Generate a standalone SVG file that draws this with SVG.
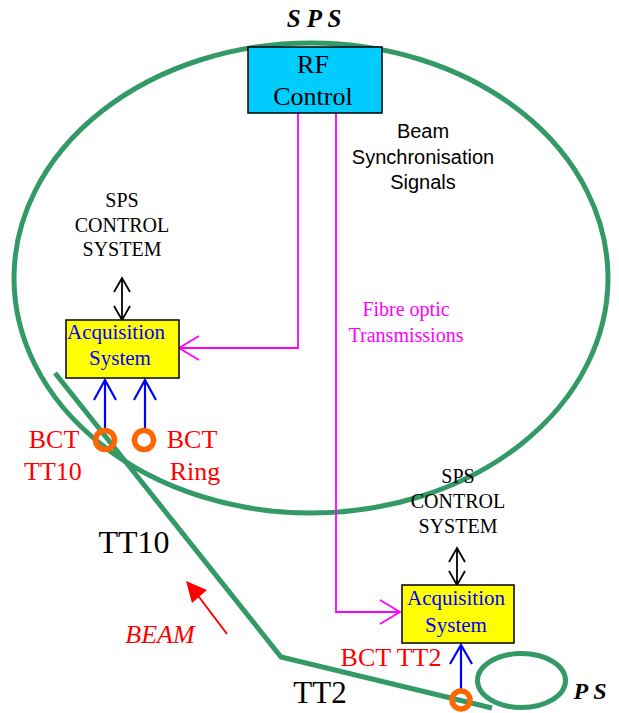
<svg xmlns="http://www.w3.org/2000/svg" width="619" height="713" viewBox="0 0 619 713">
<style>
.ring{fill:none;stroke:#339966;stroke-width:5}
.tm{font-family:"Liberation Serif",serif;text-anchor:middle}
.ar{font-family:"Liberation Sans",sans-serif;text-anchor:middle}
.box{stroke:#000;stroke-width:1.5}
.mag{fill:none;stroke:#FF00FF;stroke-width:1.8}
.blu{fill:none;stroke:#0000FF;stroke-width:2.2}
.blk{fill:none;stroke:#000;stroke-width:1.8}
.bct{fill:none;stroke:#FF6600;stroke-width:5.5}
</style>
<rect width="619" height="713" fill="#fff"/>
<g id="sps-ring">
<ellipse class="ring" cx="311" cy="278" rx="297" ry="235"/>
<text class="tm" x="314" y="27" font-size="25" font-weight="bold" font-style="italic">S P S</text>
</g>
<g id="ps-ring">
<ellipse class="ring" cx="521.5" cy="680.5" rx="44" ry="27"/>
<text class="tm" x="590" y="699" font-size="24" font-weight="bold" font-style="italic">P S</text>
</g>
<g id="transfer-lines">
<polyline class="ring" points="55,373 281,657 492,708"/>
<text class="tm" x="134" y="553" font-size="32">TT10</text>
<text class="tm" x="320" y="703" font-size="31">TT2</text>
</g>
<g id="connectors">
<polyline class="mag" points="298,113 298,348 179,348"/>
<polyline class="mag" points="199,336 179,348 199,360"/>
<polyline class="mag" points="336,113 336,612 400,612"/>
<polyline class="mag" points="380,600 400,612 380,624"/>
<line class="blu" x1="105" y1="430" x2="105" y2="380"/>
<polyline class="blu" points="94,400 105,380 116,400"/>
<line class="blu" x1="145" y1="430" x2="145" y2="380"/>
<polyline class="blu" points="134,400 145,380 156,400"/>
<line class="blu" x1="461" y1="691" x2="461" y2="645"/>
<polyline class="blu" points="450,664 461,645 472,664"/>
<line class="blk" x1="122" y1="278" x2="122" y2="320"/>
<polyline class="blk" points="114,292 122,278 130,292"/>
<polyline class="blk" points="114,306 122,320 130,306"/>
<line class="blk" x1="457" y1="548" x2="457" y2="585"/>
<polyline class="blk" points="449,562 457,548 465,562"/>
<polyline class="blk" points="449,571 457,585 465,571"/>
<line x1="227" y1="634" x2="196" y2="593" stroke="#FF0000" stroke-width="2"/>
<polygon points="186,581 207,590 192,603" fill="#FF0000"/>
</g>
<g id="rf-control">
<rect class="box" x="248" y="47" width="134" height="66" fill="#00CCFF"/>
<text class="tm" x="313" y="73" font-size="26">RF</text>
<text class="tm" x="313" y="105" font-size="26">Control</text>
</g>
<g id="beam-sync-label">
<text class="ar" x="423" y="138" font-size="20">Beam</text>
<text class="ar" x="423" y="164" font-size="20">Synchronisation</text>
<text class="ar" x="423" y="189" font-size="20">Signals</text>
</g>
<g id="fibre-label">
<text class="tm" x="406" y="316" font-size="20" fill="#FF00FF">Fibre optic</text>
<text class="tm" x="406" y="342" font-size="20" fill="#FF00FF">Transmissions</text>
</g>
<g id="sps-control-1">
<text class="tm" x="122" y="207" font-size="20">SPS</text>
<text class="tm" x="122" y="232" font-size="20">CONTROL</text>
<text class="tm" x="122" y="256" font-size="20">SYSTEM</text>
</g>
<g id="sps-control-2">
<text class="tm" x="458" y="483" font-size="20">SPS</text>
<text class="tm" x="458" y="508" font-size="20">CONTROL</text>
<text class="tm" x="458" y="533" font-size="20">SYSTEM</text>
</g>
<g id="acq-1">
<rect class="box" x="66" y="320" width="113" height="58" fill="#FFFF00"/>
<text class="tm" x="116" y="339" font-size="21" fill="#0000FF">Acquisition</text>
<text class="tm" x="120" y="365" font-size="21" fill="#0000FF">System</text>
</g>
<g id="acq-2">
<rect class="box" x="402" y="585" width="112" height="58" fill="#FFFF00"/>
<text class="tm" x="456" y="605" font-size="21" fill="#0000FF">Acquisition</text>
<text class="tm" x="456" y="632" font-size="21" fill="#0000FF">System</text>
</g>
<g id="bct-tt10">
<circle class="bct" cx="105" cy="440" r="9.5"/>
<text class="tm" x="54" y="448" font-size="26" fill="#FF0000">BCT</text>
<text class="tm" x="53" y="480" font-size="26" fill="#FF0000">TT10</text>
</g>
<g id="bct-ring">
<circle class="bct" cx="144" cy="440" r="9.5"/>
<text class="tm" x="192" y="448" font-size="26" fill="#FF0000">BCT</text>
<text class="tm" x="195" y="480" font-size="26" fill="#FF0000">Ring</text>
</g>
<g id="bct-tt2">
<circle class="bct" cx="461" cy="700" r="9"/>
<text class="tm" x="391" y="666" font-size="26" fill="#FF0000">BCT TT2</text>
</g>
<g id="beam-label">
<text class="tm" x="160" y="643" font-size="26" font-style="italic" fill="#FF0000">BEAM</text>
</g>
</svg>
